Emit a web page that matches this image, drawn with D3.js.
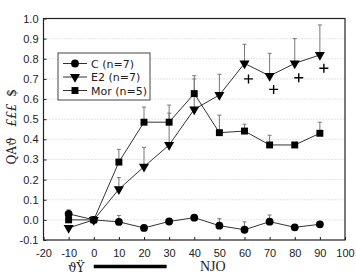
<!DOCTYPE html>
<html>
<head>
<meta charset="utf-8">
<script src="https://cdn.jsdelivr.net/npm/d3@7"></script>
<style>
  body { margin: 0; background: #fff; }
  svg { display: block; font-family: "DejaVu Sans", sans-serif; }
  .grid line { stroke: #bbb; stroke-dasharray: 1,2; stroke-width: 0.8; }
  .axis text { font-size: 11px; fill: #222; }
  .axis path { display: none; }
  .axis line { stroke: #222; }
</style>
</head>
<body>
<div id="chart"></div>
<script>
// time points (x) and group means / upper error bars
const times = [-10, 0, 10, 20, 30, 40, 50, 60, 70, 80, 90];
const cMean   = [0.03, 0.0, -0.01, -0.04, -0.008, 0.011, -0.029, -0.049, -0.009, -0.037, -0.022];
const cErr    = [0.05, 0.0, 0.022, -0.04, 0.005, 0.02, 0.006, -0.01, 0.024, -0.037, -0.022];
const e2Mean  = [-0.04, 0.0, 0.152, 0.264, 0.372, 0.549, 0.62, 0.777, 0.715, 0.777, 0.819];
const e2Err   = [-0.04, 0.0, 0.21, 0.36, 0.53, 0.70, 0.723, 0.872, 0.827, 0.90, 0.968];
const morMean = [0.0, 0.0, 0.287, 0.485, 0.485, 0.627, 0.433, 0.441, 0.372, 0.372, 0.43];
const morErr  = [0.02, 0.0, 0.35, 0.56, 0.57, 0.716, 0.52, 0.475, 0.42, 0.372, 0.485];
// significance markers (+)
const plusTimes = [60, 70, 80, 90];
const plusVals  = [0.70, 0.648, 0.706, 0.753];

const xTicks = d3.range(-20, 101, 10);
const yTicks = d3.range(-0.1, 1.001, 0.1).map(v => +v.toFixed(1));

const series = [
  { name: 'C (n=7)',   mean: cMean,   err: cErr,   shape: d3.symbolCircle, size: 48 },
  { name: 'E2 (n=7)',  mean: e2Mean,  err: e2Err,  shape: 'tri',           size: 44 },
  { name: 'Mor (n=5)', mean: morMean, err: morErr, shape: d3.symbolSquare, size: 48 }
];

const W = 356, H = 275;
const m = { left: 43.5, right: 11, top: 18.5, bottom: 35 };

const svg = d3.select('#chart').append('svg')
  .attr('width', W).attr('height', H);

const x = d3.scaleLinear().domain([-20, 100]).range([m.left, W - m.right]);
const y = d3.scaleLinear().domain([-0.1, 1.0]).range([H - m.bottom, m.top]);

// plain hyphen minus like the source
const hy = f => d => f(d).replace('\u2212', '-');

// dotted grid
svg.append('g').attr('class', 'grid')
  .selectAll('line').data(yTicks.filter(v => v > -0.1 && v < 1.0))
  .join('line')
  .attr('x1', m.left).attr('x2', W - m.right)
  .attr('y1', d => y(d)).attr('y2', d => y(d));

// axes, ticks pointing inward
svg.append('g').attr('class', 'axis')
  .attr('transform', `translate(${m.left},0)`)
  .call(d3.axisLeft(y).tickValues(yTicks).tickFormat(hy(d3.format('.1f')))
    .tickSizeInner(-3).tickSizeOuter(0).tickPadding(5));

svg.append('g').attr('class', 'axis')
  .attr('transform', `translate(0,${H - m.bottom})`)
  .call(d3.axisBottom(x).tickValues(xTicks).tickFormat(hy(d3.format('d')))
    .tickSizeInner(-3).tickSizeOuter(0).tickPadding(9));

// frame
svg.append('rect')
  .attr('x', m.left).attr('y', m.top)
  .attr('width', W - m.right - m.left).attr('height', H - m.bottom - m.top)
  .attr('fill', 'none').attr('stroke', '#222').attr('stroke-width', 1.2);

const line = d3.line().x(d => x(d[0])).y(d => y(d[1]));

function marker(shape, size) {
  if (shape === 'tri') return d3.symbol().type(d3.symbolTriangle).size(size)();
  return d3.symbol().type(shape).size(size)();
}
const rot = s => s.shape === 'tri' ? ' rotate(180)' : '';

const plot = svg.append('g');

// error bars (upper only)
series.forEach(s => {
  const bars = times.map((t, i) => ({ t, m: s.mean[i], e: s.err[i] })).filter(d => d.e > d.m + 0.005);
  const g = plot.append('g');
  g.selectAll('line.eb').data(bars).join('line')
    .attr('x1', d => x(d.t)).attr('x2', d => x(d.t))
    .attr('y1', d => y(d.m)).attr('y2', d => y(d.e))
    .attr('stroke', '#777').attr('stroke-width', 1);
  g.selectAll('line.cap').data(bars).join('line')
    .attr('x1', d => x(d.t) - 2).attr('x2', d => x(d.t) + 2)
    .attr('y1', d => y(d.e)).attr('y2', d => y(d.e))
    .attr('stroke', '#777').attr('stroke-width', 1);
});

// lines + markers
series.forEach(s => {
  const pts = times.map((t, i) => [t, s.mean[i]]);
  plot.append('path').datum(pts)
    .attr('d', line).attr('fill', 'none')
    .attr('stroke', '#333').attr('stroke-width', 1);
  plot.append('g').selectAll('path').data(pts).join('path')
    .attr('d', marker(s.shape, s.size))
    .attr('transform', d => `translate(${x(d[0])},${y(d[1])})` + rot(s))
    .attr('fill', '#000');
});

// + markers
plot.append('g').selectAll('path').data(plusTimes.map((t, i) => [t, plusVals[i]]))
  .join('path')
  .attr('d', 'M-4.5,0H4.5M0,-4.5V4.5')
  .attr('transform', d => `translate(${x(d[0]) + 4},${y(d[1])})`)
  .attr('stroke', '#000').attr('stroke-width', 1.4).attr('fill', 'none');

// legend
const lg = svg.append('g').attr('transform', 'translate(58,53)');
lg.append('rect').attr('width', 92).attr('height', 47)
  .attr('fill', '#fff').attr('stroke', '#444').attr('stroke-width', 1);
series.forEach((s, i) => {
  const yy = 10.5 + i * 13.5;
  lg.append('line').attr('x1', 5).attr('x2', 29).attr('y1', yy).attr('y2', yy)
    .attr('stroke', '#333').attr('stroke-width', 1);
  lg.append('path').attr('d', marker(s.shape, s.size))
    .attr('transform', `translate(17,${yy})` + rot(s))
    .attr('fill', '#000');
  lg.append('text').attr('x', 33).attr('y', yy + 4)
    .attr('font-size', 11).attr('fill', '#222').text(s.name);
});

// y-axis title (garbled symbol-font text as in source), pieces spread out
const yTitle = [
  { t: 'QAϑ', at: 151, style: 'normal' },
  { t: '£££', at: 115, style: 'italic' },
  { t: '$',   at: 93,  style: 'normal' }
];
svg.append('g').selectAll('text').data(yTitle).join('text')
  .attr('transform', d => `translate(16,${d.at}) rotate(-90)`)
  .attr('text-anchor', 'middle')
  .attr('font-family', '"DejaVu Serif", serif').attr('font-size', 12)
  .attr('font-style', d => d.style).attr('fill', '#222')
  .text(d => d.t);

// x-axis title pieces and treatment bar
svg.append('text').attr('x', 68).attr('y', 272)
  .attr('font-family', '"DejaVu Serif", serif').attr('font-size', 12).attr('fill', '#222')
  .text('ϑŸ');
svg.append('line')
  .attr('x1', x(0)).attr('x2', x(29))
  .attr('y1', 266.5).attr('y2', 266.5)
  .attr('stroke', '#000').attr('stroke-width', 3.5);
svg.append('text').attr('x', 200).attr('y', 271)
  .attr('font-family', '"Liberation Serif", serif').attr('font-size', 14).attr('fill', '#222')
  .text('NJO');
</script>
</body>
</html>
